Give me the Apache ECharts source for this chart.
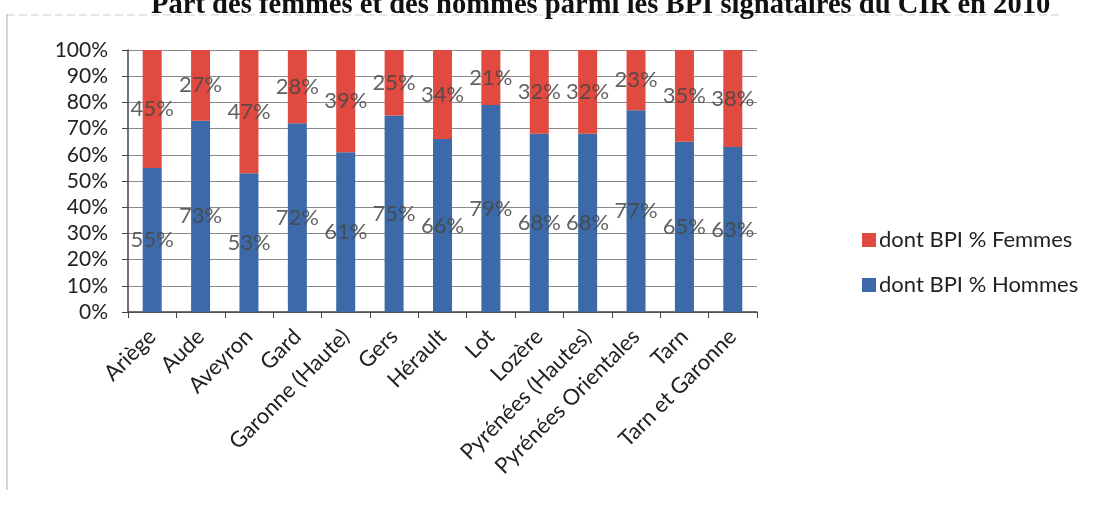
<!DOCTYPE html>
<html lang="fr">
<head>
    <meta charset="UTF-8">
    <title>BPI CIR 2010</title>
    <script src="https://cdn.jsdelivr.net/npm/echarts@6/dist/echarts.min.js"></script>
    <style>
        body { margin: 0; background: #fff; }
        #box { width: 1094px; height: 508px; }
    </style>
</head>
<body>
<div id="box"></div>
<script>
    var departements = ['Ariège', 'Aude', 'Aveyron', 'Gard', 'Garonne (Haute)', 'Gers', 'Hérault',
        'Lot', 'Lozère', 'Pyrénées (Hautes)', 'Pyrénées Orientales', 'Tarn', 'Tarn et Garonne'];
    var hommes = [55, 73, 53, 72, 61, 75, 66, 79, 68, 68, 77, 65, 63];
    var femmes = [45, 27, 47, 28, 39, 25, 34, 21, 32, 32, 23, 35, 38];

    var font = 'Lato';
    var labelStyle = {
        show: true,
        position: 'inside',
        formatter: '{c}%',
        color: 'rgba(70,70,70,0.85)',
        fontFamily: font,
        fontSize: 22
    };

    var myChart = echarts.init(document.getElementById('box'));
    var option = {
        animation: false,
        title: {
            text: 'Part des femmes et des hommes parmi les BPI signataires du CIR en 2010',
            left: 146,
            top: -14,
            textStyle: { fontFamily: 'Liberation Serif', fontWeight: 'bold', fontSize: 28.6, color: '#111' }
        },
        graphic: [
            { type: 'line', shape: { x1: 7, y1: 14, x2: 7, y2: 490 }, style: { stroke: '#c8c8c8', lineWidth: 1.5 } },
            { type: 'line', shape: { x1: 7, y1: 15, x2: 1060, y2: 15 }, style: { stroke: '#cfcfcf', lineWidth: 1, lineDash: [8, 4] } }
        ],
        legend: {
            orient: 'vertical',
            left: 857,
            top: 224,
            itemGap: 23,
            itemWidth: 14,
            itemHeight: 14,
            icon: 'rect',
            data: ['dont BPI % Femmes', 'dont BPI % Hommes'],
            textStyle: { fontFamily: font, fontSize: 22, color: '#222', padding: [0, 0, 0, -2] }
        },
        grid: { left: 128, right: 337, top: 50, bottom: 196 },
        xAxis: {
            type: 'category',
            data: departements,
            axisLine: { lineStyle: { color: '#444', width: 1.5 } },
            axisTick: { show: true, alignWithLabel: false, length: 6, lineStyle: { color: '#444' } },
            axisLabel: { rotate: 45, interval: 0, fontFamily: font, fontSize: 22, color: '#222', margin: 21 }
        },
        yAxis: {
            type: 'value',
            min: 0,
            max: 100,
            interval: 10,
            axisLine: { show: true, lineStyle: { color: '#444', width: 1.5 } },
            axisTick: { show: true, length: 6, lineStyle: { color: '#444' } },
            axisLabel: { formatter: '{value}%', fontFamily: font, fontSize: 21, color: '#222', margin: 20 },
            splitLine: { lineStyle: { color: '#8a8a8a', width: 1.2 } }
        },
        series: [
            {
                name: 'dont BPI % Hommes',
                type: 'bar',
                stack: 'total',
                barWidth: 19,
                data: hommes,
                itemStyle: { color: '#3c6aa8' },
                label: labelStyle
            },
            {
                name: 'dont BPI % Femmes',
                type: 'bar',
                stack: 'total',
                barWidth: 19,
                data: femmes,
                itemStyle: { color: '#e04a40' },
                label: labelStyle
            }
        ]
    };
    myChart.setOption(option);
</script>
</body>
</html>
